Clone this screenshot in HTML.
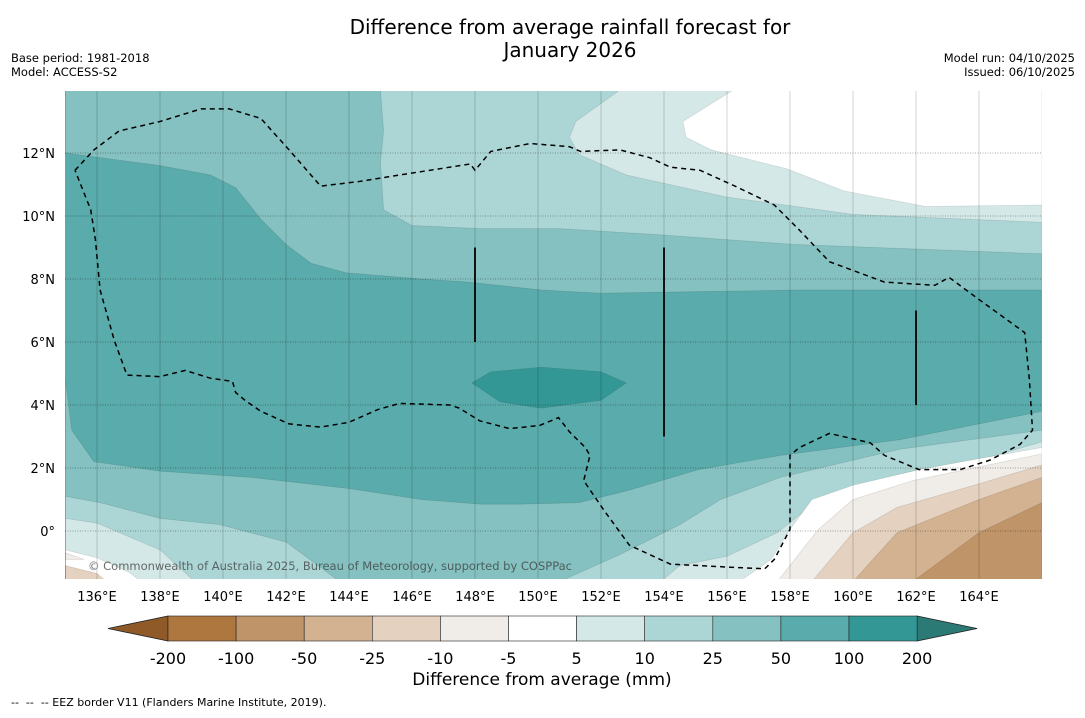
<!DOCTYPE html>
<html><head><meta charset="utf-8"><style>
body{margin:0;background:#fff;width:1085px;height:713px;overflow:hidden;font-family:"Liberation Sans","DejaVu Sans",sans-serif}
</style></head><body>
<svg id="svg" width="1085" height="713" viewBox="0 0 1085 713" xmlns="http://www.w3.org/2000/svg" font-family="DejaVu Sans, Liberation Sans, sans-serif">
<text x="570" y="34" font-size="20" text-anchor="middle">Difference from average rainfall forecast for</text>
<text x="570" y="57" font-size="20" text-anchor="middle">January 2026</text>
<text x="11" y="62" font-size="11.5">Base period: 1981-2018</text>
<text x="11" y="76" font-size="11.5">Model: ACCESS-S2</text>
<text x="1075" y="62" font-size="11.5" text-anchor="end">Model run: 04/10/2025</text>
<text x="1075" y="76" font-size="11.5" text-anchor="end">Issued: 06/10/2025</text>
<defs><clipPath id="pc"><rect x="65" y="91" width="977" height="488"/></clipPath></defs>
<g id="map" clip-path="url(#pc)"></g>
<g id="axes"></g>
<g id="cbar"></g>
<text x="542" y="685" font-size="17" text-anchor="middle">Difference from average (mm)</text>
<text x="11" y="706" font-size="11" xml:space="preserve">--  --  -- EEZ border V11 (Flanders Marine Institute, 2019).</text>
</svg>
<script>
// --- data (lon, lat) ---
const lonTicks=[136,138,140,142,144,146,148,150,152,154,156,158,160,162,164];
const latTicks=[12,10,8,6,4,2,0];
const cbLevels=["-200","-100","-50","-25","-10","-5","5","10","25","50","100","200"];
const cbColors=["#ae773f","#bf9469","#d3b291","#e4d1bf","#f0ece7","#ffffff","#d4e8e7","#acd6d5","#84c1c0","#5aabab","#339895"];
const north25=[[135,12],[138,11.6],[139.6,11.3],[140.4,10.9],[141.2,9.9],[142,9.1],[142.8,8.5],[143.9,8.2],[146.3,8],[147.8,7.9],[150.1,7.65],[152,7.55],[155.1,7.6],[158.3,7.65],[166,7.65],[166,14],[135,14]];
const north10=[[145,14],[145.1,12.7],[145,11.7],[145.1,10.2],[146,9.7],[148.2,9.6],[150.7,9.6],[153.9,9.4],[158.1,9.1],[166,8.8],[166,14]];
const north5=[[152.6,14],[151.2,13],[151,12.5],[151.3,11.95],[152.8,11.3],[156,10.6],[160,10.05],[166,9.8],[166,14]];
const northWhite=[[156.2,14],[154.6,13],[154.7,12.5],[155.5,12.1],[157.9,11.5],[159.7,10.8],[162.3,10.3],[166,10.35],[166,14]];
const south25=[[135,-1.6],[135,4.8],[135.2,3.2],[135.9,2.2],[138,1.9],[140.9,1.7],[144,1.35],[146.3,1],[148.2,0.85],[149.4,0.85],[151.3,0.9],[152.9,1.3],[155.1,1.95],[157.7,2.4],[161.5,2.9],[166,3.8],[166,-1.6]];
const south10L=[[135,1.1],[136.1,0.9],[138,0.4],[139.9,0.2],[142,-0.35],[143.7,-1.6],[135,-1.6]];
const south10R=[[150.7,-1.6],[152.6,-0.75],[154.5,0.2],[155.8,1],[157.7,1.7],[161.5,2.6],[166,3.2],[166,-1.6]];
const south5L=[[135,0.4],[136,0.25],[138,-0.6],[139.1,-1.6],[135,-1.6]];
const south5R=[[153.9,-1.6],[154.5,-1.1],[156,-0.8],[157.6,-0.05],[158.6,0.75],[160,1.4],[161.9,1.9],[164,2.25],[166,2.83],[166,-1.6]];
const southWhiteL=[[135,-0.6],[136,-0.85],[137,-1.3],[137.4,-1.6],[135,-1.6]];
const southWhiteR=[[156.4,-1.6],[157.4,-0.9],[158,0.05],[158.7,1],[160,1.45],[162.1,1.95],[164,2.3],[166,2.65],[166,-1.6]];
const neg5L=[[135,-0.7],[135.6,-0.9],[135,-0.9]];
const neg10L=[[135,-1.1],[136,-1.35],[136.3,-1.6],[135,-1.6]];
const neg5R=[[157.6,-1.6],[158.9,0.05],[160,1],[161.9,1.6],[166,2.45],[166,-1.6]];
const neg10R=[[158.7,-1.6],[160,-0.05],[161.4,0.75],[164,1.5],[166,2.1],[166,-1.6]];
const neg25R=[[160,-1.6],[161.4,-0.05],[164,1],[166,1.7],[166,-1.6]];
const neg50R=[[161.9,-1.6],[164,-0.05],[166,0.9],[166,-1.6]];
const blob100=[[147.9,4.7],[148.5,5.05],[150.1,5.2],[152,5.05],[152.8,4.7],[152,4.15],[150.1,3.9],[148.8,4.1]];
const eez=[[135.3,11.45],[135.9,12.1],[136.7,12.7],[138,13],[139.3,13.4],[140.2,13.4],[141.2,13.1],[142.1,12.1],[143.1,10.95],[144.35,11.1],[145.6,11.3],[147.85,11.65],[148,11.45],[148.5,12.05],[149.75,12.3],[151,12.2],[151.35,12.05],[152.6,12.1],[153.55,11.85],[154.2,11.55],[155.15,11.45],[156.25,10.95],[157.5,10.35],[158.3,9.55],[159.25,8.55],[161,7.9],[162.6,7.8],[163.05,8.05],[164,7.35],[165.45,6.3],[165.6,4.8],[165.7,3.2],[165.3,2.75],[164.35,2.25],[163.4,1.95],[162.1,1.95],[161,2.4],[160.55,2.8],[159.25,3.1],[158.3,2.65],[158,2.4],[158,1.6],[158,0.05],[157.5,-0.9],[157.2,-1.2],[156.1,-1.15],[154.2,-1.05],[152.9,-0.45],[152.1,0.65],[151.45,1.6],[151.65,2.4],[151.5,2.65],[151,3.15],[150.65,3.6],[150.05,3.35],[149.1,3.25],[148.15,3.5],[147.5,3.9],[147.2,4],[145.6,4.05],[144.9,3.85],[144,3.45],[143.1,3.3],[142.1,3.4],[141.2,3.8],[140.7,4.15],[140.4,4.4],[140.3,4.75],[139.6,4.85],[138.8,5.1],[138,4.9],[136.95,4.95],[136.55,6.05],[136.1,7.65],[135.95,9.25],[135.8,10.2],[135.3,11.45]];
const meridianBars=[[148,6,9],[154,3,9],[162,4,7]];
// --- scales ---
const X=lon=>65.5+(lon-135)*31.5;
const Y=lat=>531-lat*31.5;
const NS='http://www.w3.org/2000/svg';
function mk(tag,attrs,parent){const e=document.createElementNS(NS,tag);for(const k in attrs)e.setAttribute(k,attrs[k]);parent.appendChild(e);return e;}
const map=document.getElementById('map');
const pts=a=>a.map(p=>X(p[0]).toFixed(1)+','+Y(p[1]).toFixed(1)).join(' ');
let bg=mk('rect',{x:65,y:91,width:977,height:488,fill:cbColors[9]},map);


const layers=[[north25,8,'contour-north-25-50'],[north10,7,'contour-north-10-25'],[north5,6,'contour-north-5-10'],[northWhite,5,'contour-north-near-zero'],
[south25,8,'contour-south-25-50'],[south10L,7,'contour-south-west-10-25'],[south10R,7,'contour-south-east-10-25'],[south5L,6,'contour-south-west-5-10'],[south5R,6,'contour-south-east-5-10'],
[southWhiteL,5,'contour-south-west-near-zero'],[southWhiteR,5,'contour-south-east-near-zero'],[neg5L,4,'contour-south-west-minus5'],[neg10L,3,'contour-south-west-minus10'],
[neg5R,4,'contour-south-east-minus5-10'],[neg10R,3,'contour-south-east-minus10-25'],[neg25R,2,'contour-south-east-minus25-50'],[neg50R,1,'contour-south-east-minus50-100'],[blob100,10,'contour-100-200']];
for(const [arr,ci,name] of layers){
  const p=mk('polygon',{points:pts(arr),fill:cbColors[ci],stroke:'rgba(0,0,0,0.12)','stroke-width':0.7},map);
  
  
}
// gridlines
for(const lon of lonTicks){
  const l=mk('line',{x1:X(lon),x2:X(lon),y1:91,y2:579,stroke:'rgba(0,0,0,0.22)','stroke-width':0.8},map);
  
  
}
for(const lat of latTicks){
  const l=mk('line',{x1:65,x2:1042,y1:Y(lat),y2:Y(lat),stroke:'rgba(0,0,0,0.45)','stroke-width':0.8,'stroke-dasharray':'1,1.5'},map);
  
  
}
for(const b of meridianBars){
  const l=mk('line',{x1:X(b[0]),x2:X(b[0]),y1:Y(b[2]),y2:Y(b[1]),stroke:'#111','stroke-width':2},map);
  
  
}
const ez=mk('polyline',{points:pts(eez),fill:'none',stroke:'#000','stroke-width':1.5,'stroke-dasharray':'5,4'},map);


const cr=mk('text',{x:88,y:570,'font-size':11.5,fill:'rgba(60,60,60,0.75)',textLength:484},map);
cr.textContent='© Commonwealth of Australia 2025, Bureau of Meteorology, supported by COSPPac';


// axes labels
const axes=document.getElementById('axes');
for(const lon of lonTicks){
  const t=mk('text',{x:X(lon),y:601,'font-size':13,'text-anchor':'middle'},axes);
  t.textContent=lon+'°E';
  
  
}
for(const lat of latTicks){
  const t=mk('text',{x:55,y:Y(lat)+5,'font-size':13,'text-anchor':'end'},axes);
  t.textContent=lat===0?'0°':lat+'°N';
  
  
}
// colorbar
const cb=document.getElementById('cbar');
const cx0=168,cw=68.1,cy=616,ch=25;
let lt=mk('polygon',{points:`108,${cy+ch/2} ${cx0},${cy} ${cx0},${cy+ch}`,fill:'#8f5a27',stroke:'#222','stroke-width':0.8},cb);


const xr=cx0+cw*cbColors.length;
let rt=mk('polygon',{points:`${xr},${cy} ${xr+60},${cy+ch/2} ${xr},${cy+ch}`,fill:'#2b7a76',stroke:'#222','stroke-width':0.8},cb);


cbColors.forEach((c,i)=>{
  const r=mk('rect',{x:cx0+cw*i,y:cy,width:cw,height:ch,fill:c,stroke:'#222','stroke-width':0.6},cb);
  
  
});
cbLevels.forEach((s,i)=>{
  const t=mk('text',{x:cx0+cw*i,y:664,'font-size':16,'text-anchor':'middle'},cb);
  t.textContent=s;
  
  
});
</script>
</body></html>
